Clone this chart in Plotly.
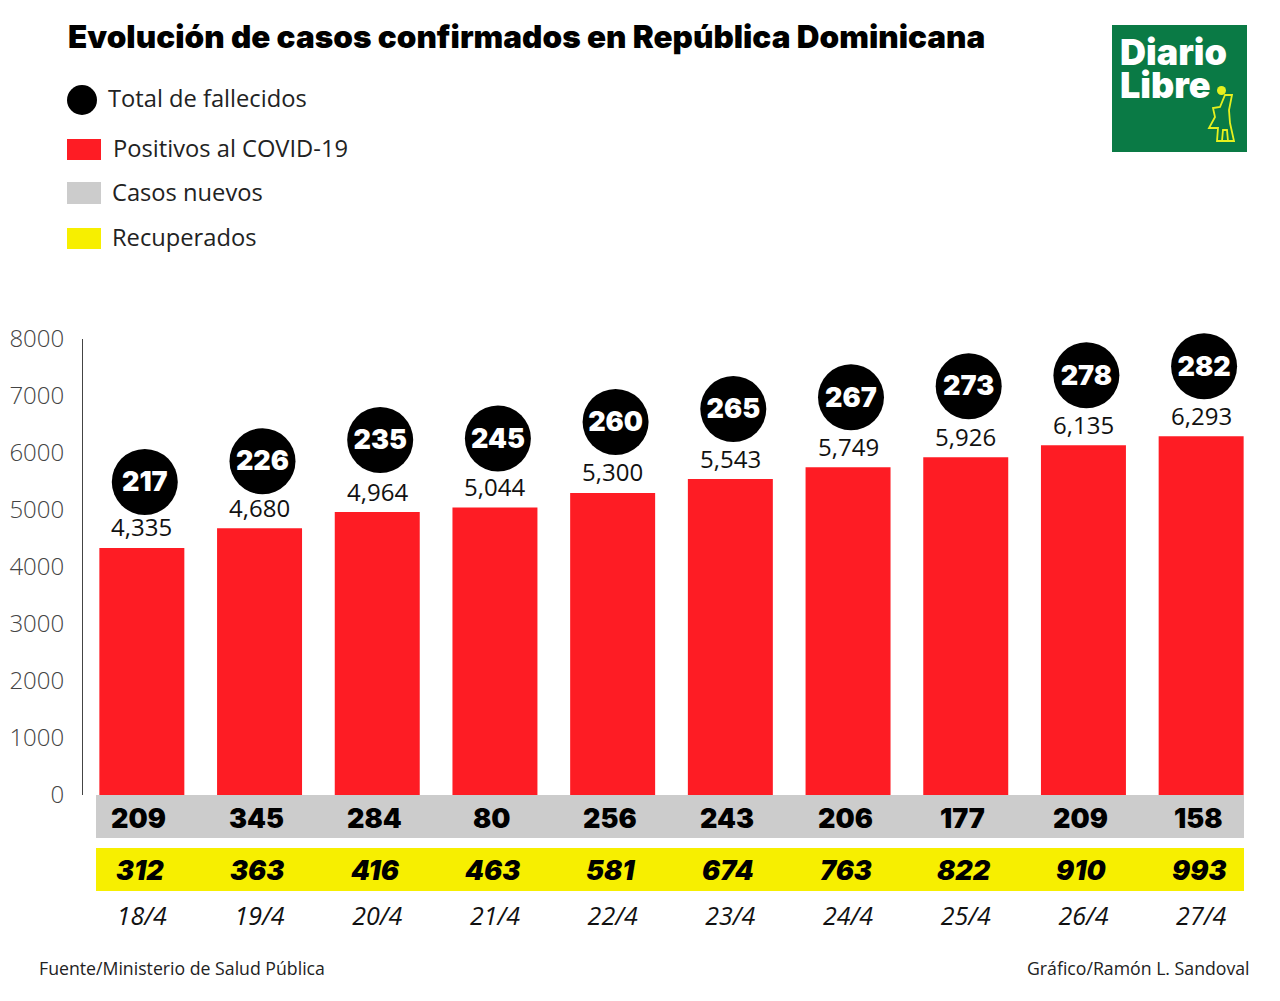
import plotly.graph_objects as go

dates = ["18/4", "19/4", "20/4", "21/4", "22/4", "23/4", "24/4", "25/4", "26/4", "27/4"]
positivos = [4335, 4680, 4964, 5044, 5300, 5543, 5749, 5926, 6135, 6293]
fallecidos = [217, 226, 235, 245, 260, 265, 267, 273, 278, 282]
nuevos = [209, 345, 284, 80, 256, 243, 206, 177, 209, 158]
recuperados = [312, 363, 416, 463, 581, 674, 763, 822, 910, 993]
yticks = [0, 1000, 2000, 3000, 4000, 5000, 6000, 7000, 8000]

W, H = 1280, 1001
L, R, T, B = 83, 20, 339, 206
FONT = "Open Sans"
HEAVY = "Inter"
UNITS_PER_PX = 8000 / (H - T - B)

def px(x):
    return (x - L) / (W - L - R)

def py(y):
    return (H - B - y) / (H - T - B)

idx = list(range(len(dates)))
circle_lift_px = [66, 67, 72, 69, 71, 70, 70, 71, 70, 70]  # layout gap above each bar
circle_x = [i + 0.025 for i in idx]

fig = go.Figure()
fig.add_bar(
    x=idx, y=positivos, width=0.722, marker=dict(color="#fe1c24", line_width=0),
    name="Positivos al COVID-19",
)
fig.add_scatter(
    x=circle_x, y=[v + g * UNITS_PER_PX for v, g in zip(positivos, circle_lift_px)],
    mode="markers", marker=dict(size=66, color="#000"), cliponaxis=False, name="Total de fallecidos",
)
fig.add_scatter(
    x=circle_x, y=[v + (g - 2.5) * UNITS_PER_PX for v, g in zip(positivos, circle_lift_px)],
    mode="text", cliponaxis=False, showlegend=False,
    text=[str(v) for v in fallecidos], textposition="middle center",
    textfont=dict(family=HEAVY, size=27, color="#fff", weight=900),
)

shapes = []
annotations = []

def rect(x0, y0, x1, y1, color, kind="rect"):
    shapes.append(dict(type=kind, xref="paper", yref="paper", x0=px(x0), x1=px(x1),
                       y0=py(y0), y1=py(y1), fillcolor=color, line_width=0, layer="below"))

def label(x, y, text, size, color="#222", family=FONT, anchor="left", weight=None, style=None):
    font = dict(family=family, size=size, color=color)
    if weight:
        font["weight"] = weight
    if style:
        font["style"] = style
    annotations.append(dict(xref="paper", yref="paper", x=px(x), y=py(y), text=text, showarrow=False,
                            xanchor=anchor, yanchor="middle", font=font, borderpad=0, borderwidth=0))

# rows under the axis
rect(96, 795, 1244, 838, "#cccccc")
rect(96, 848, 1244, 891, "#f7ef00")
for i in idx:
    annotations.append(dict(x=i, y=positivos[i], xref="x", yref="y", yshift=21, text=f"{positivos[i]:,}",
                            showarrow=False, yanchor="middle",
                            font=dict(family=FONT, size=24, color="#111", weight=500)))
    annotations.append(dict(x=i, xref="x", yref="paper", y=py(818), xshift=-3, text=str(nuevos[i]),
                            showarrow=False, yanchor="middle",
                            font=dict(family=HEAVY, size=27, color="#000", weight=900)))
    annotations.append(dict(x=i, xref="x", yref="paper", y=py(870), xshift=-2, text=str(recuperados[i]),
                            showarrow=False, yanchor="middle",
                            font=dict(family=HEAVY, size=27, color="#000", weight=900, style="italic")))

# legend
rect(67, 85, 97, 115, "#000", "circle")
rect(67, 139, 101, 160, "#fe1c24")
rect(67, 182, 101, 204, "#cccccc")
rect(67, 228, 101, 249, "#f7ef00")
label(108, 98, "Total de fallecidos", 23.7)
label(113, 148, "Positivos al COVID-19", 23.7)
label(112, 192, "Casos nuevos", 23.7)
label(112, 237, "Recuperados", 23.7)

# footer
label(39, 968, "Fuente/Ministerio de Salud Pública", 17.7)
label(1250, 968, "Gráfico/Ramón L. Sandoval", 17.7, anchor="right")

# logo
rect(1112, 25, 1247, 152, "#0a7a45")
label(1120, 52, "Diario", 36, color="#fff", family=HEAVY, weight=900)
label(1120, 85, "Libre", 36, color="#fff", family=HEAVY, weight=900)
fig_pts = [(1225, 95), (1232, 95), (1229, 110), (1230, 123), (1234, 141), (1217, 141), (1218, 128),
           (1209, 128), (1215, 117), (1213, 108), (1220, 107)]
path = "M " + " L ".join(f"{px(x):.5f},{py(y):.5f}" for x, y in fig_pts) + " Z"
leg = [(1222, 141), (1223, 130), (1227, 130), (1228, 141)]
path += " M " + " L ".join(f"{px(x):.5f},{py(y):.5f}" for x, y in leg)
shapes.append(dict(type="path", xref="paper", yref="paper", path=path, line=dict(color="#e6f01e", width=1.8)))
rect(1217, 86, 1226, 95, "#e6f01e", "circle")

fig.update_layout(
    width=W, height=H, margin=dict(l=L, r=R, t=T, b=B, pad=0),
    paper_bgcolor="#fff", plot_bgcolor="#fff", showlegend=False,
    title=dict(text="Evolución de casos confirmados en República Dominicana", x=68 / W, xref="container",
               xanchor="left", y=1 - 37 / H, yref="container", yanchor="middle",
               font=dict(family=HEAVY, size=31.5, color="#000", weight=900)),
    shapes=shapes, annotations=annotations,
    xaxis=dict(range=[-0.5, 9.5], tickmode="array", tickvals=idx, ticktext=dates, ticks="", showgrid=False,
               zeroline=False, showline=False, ticklabelstandoff=104, automargin=False,
               tickfont=dict(family=FONT, size=25, color="#111", style="italic")),
    yaxis=dict(range=[0, 8000], tickmode="array", tickvals=yticks, ticktext=[str(v) for v in yticks],
               ticks="", showgrid=False, zeroline=False, showline=True, linecolor="#444", linewidth=1,
               ticklabelstandoff=13, automargin=False, tickfont=dict(family=FONT, size=24, color="#444", weight=300)),
)

fig.write_html("out.html", config={"displayModeBar": False},
               post_script="document.body.style.margin='0';document.body.style.overflow='hidden';")
